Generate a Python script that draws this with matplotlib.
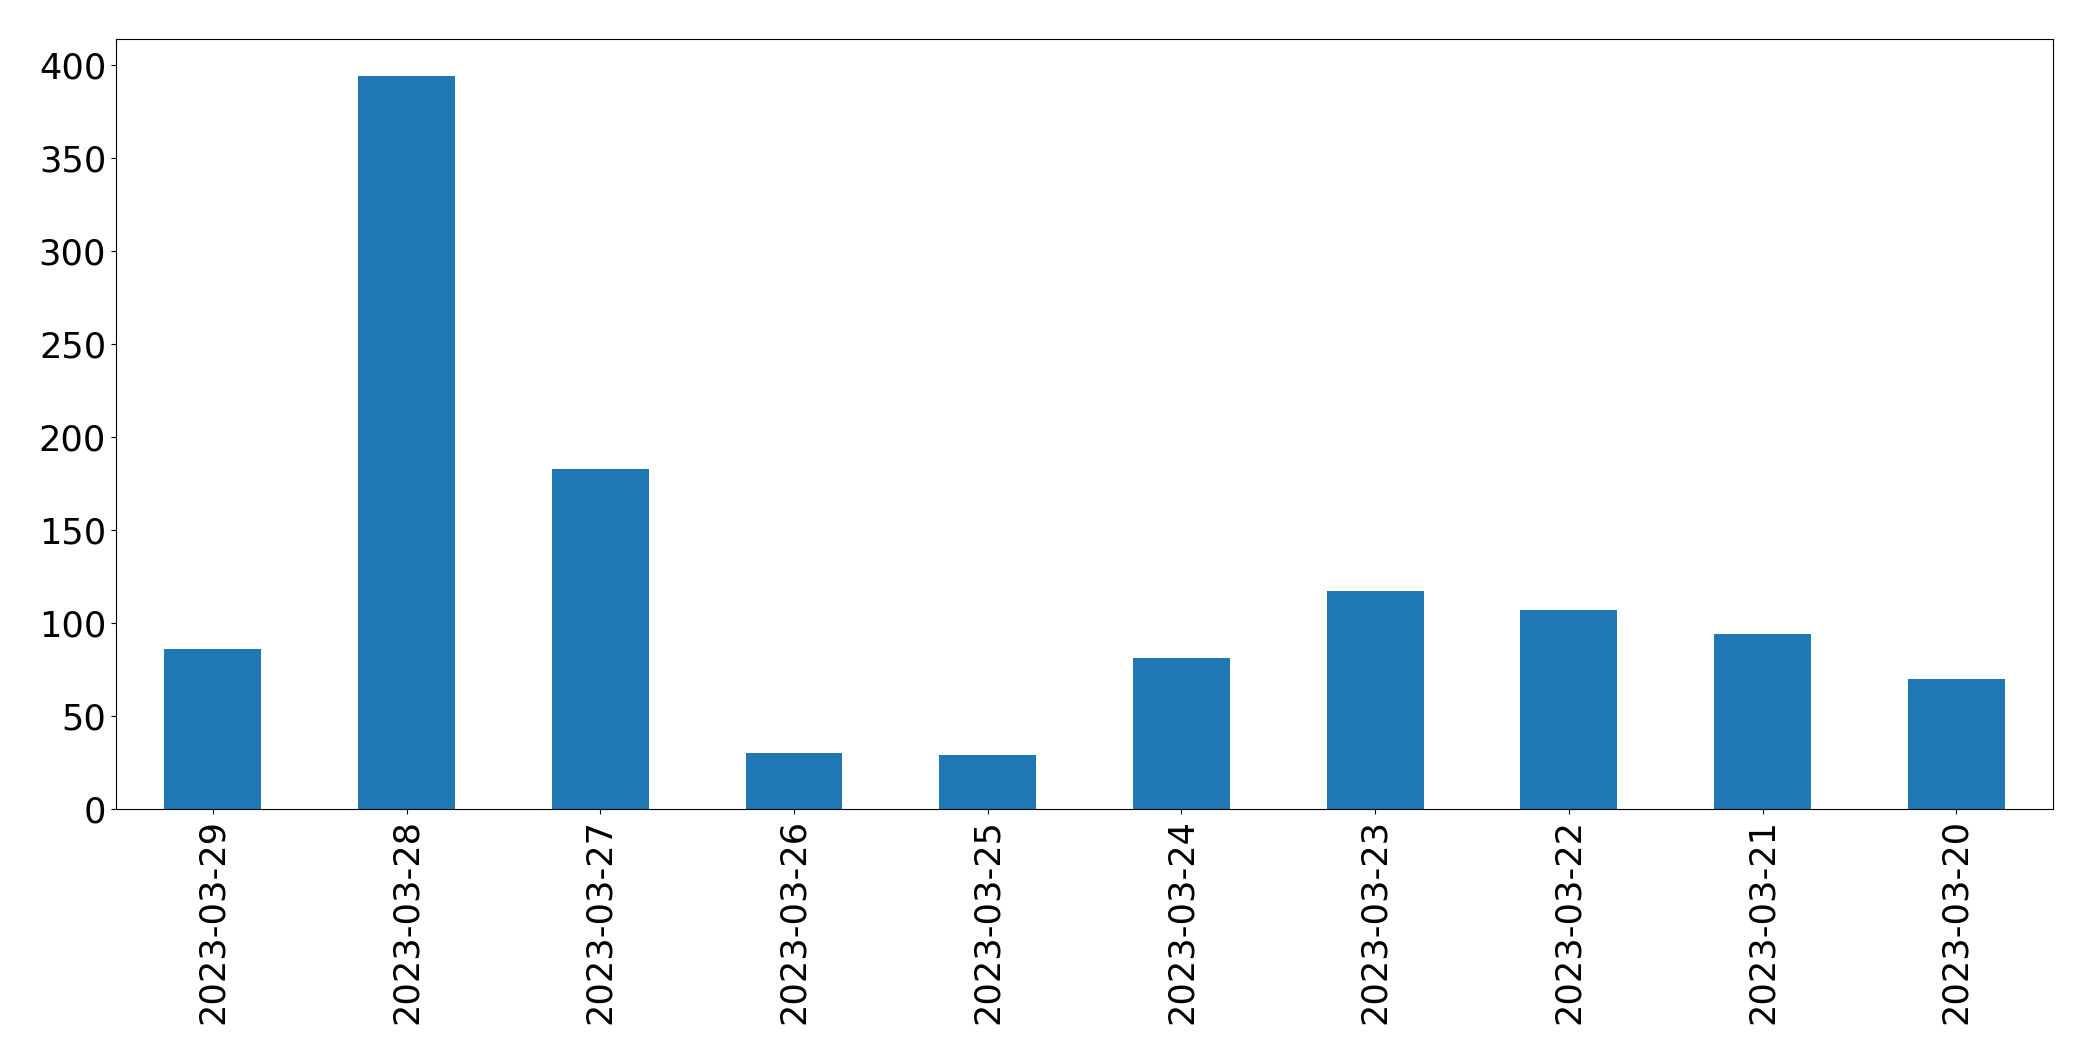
import matplotlib
matplotlib.use("Agg")
import matplotlib.pyplot as plt

# daily counts, newest first (as in the reference)
dates = ["2023-03-29", "2023-03-28", "2023-03-27", "2023-03-26", "2023-03-25",
         "2023-03-24", "2023-03-23", "2023-03-22", "2023-03-21", "2023-03-20"]
counts = [86, 394, 183, 30, 29, 81, 117, 107, 94, 70]

fig, ax = plt.subplots(figsize=(20.93, 10.61), dpi=100)
fig.subplots_adjust(left=0.0554, right=0.981, top=0.963, bottom=0.2375)

pos = list(range(len(dates)))
ax.bar(pos, counts, width=0.5, color="#1f77b4")
ax.set_xticks(pos)
ax.set_xticklabels(dates, rotation=90)
ax.set_xlim(-0.5, len(dates) - 0.5)
ax.tick_params(axis="both", labelsize=25.3)

fig.savefig("out.png", dpi=100)
